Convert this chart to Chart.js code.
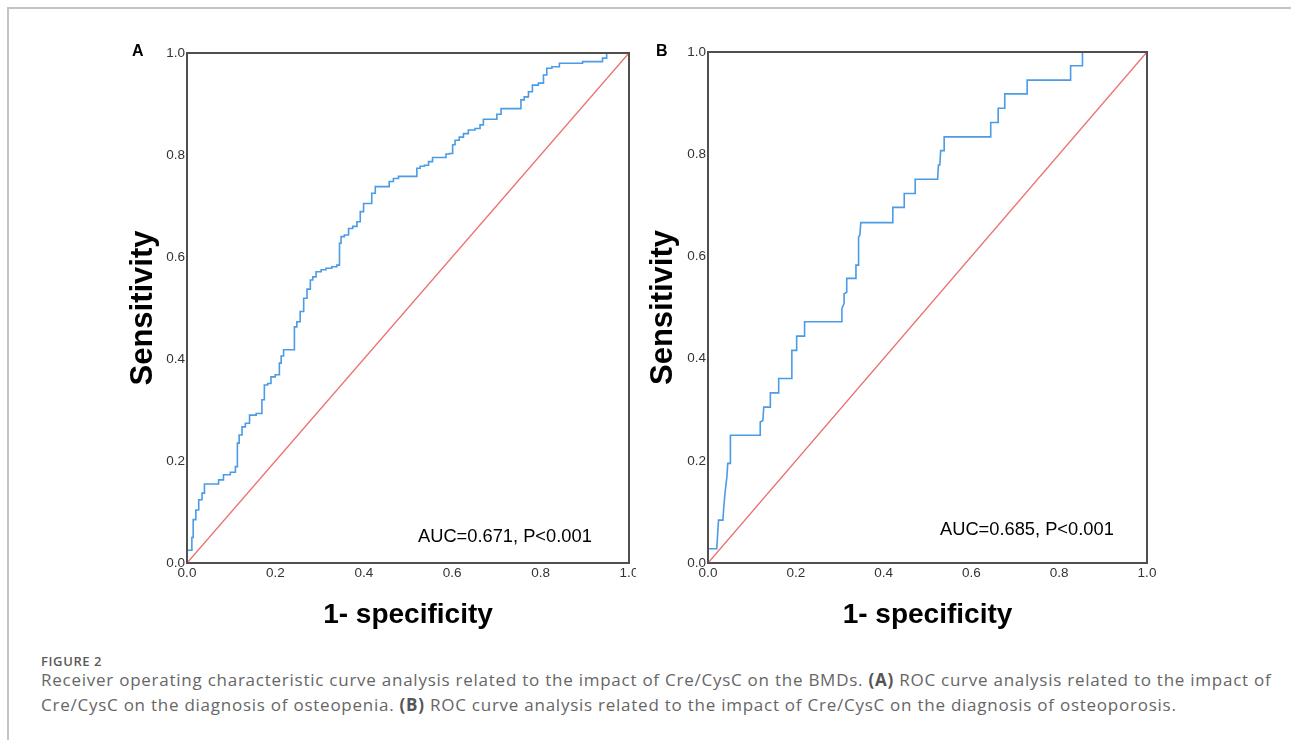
<!DOCTYPE html>
<html>
<head>
<meta charset="utf-8">
<script src="https://cdn.jsdelivr.net/npm/chart.js@4.4.1/dist/chart.umd.min.js"></script>
<style>
  html, body { margin: 0; padding: 0; background: #fff; }
  body { width: 1291px; height: 746px; position: relative; overflow: hidden;
         font-family: "Liberation Sans", Arial, sans-serif; }
  .frame { position: absolute; left: 7px; top: 7px; width: 1300px; height: 731px;
           border-top: 2px solid #c4c4c4; border-left: 2px solid #c4c4c4; }
  .panel { position: absolute; top: 30px; height: 610px; overflow: hidden; }
  #wrapA { left: 120px; width: 516px; }
  #wrapB { left: 640px; width: 530px; }
  .letter { position: absolute; top: 43px; font-weight: bold; font-size: 16px; line-height: 16px; color: #000; }
  .auc { position: absolute; font-size: 18.3px; line-height: 18px; color: #000; white-space: nowrap; }
  .figno { position: absolute; left: 41px; top: 655px; font-family: "Open Sans", sans-serif;
           font-weight: 600; font-size: 13px; line-height: 13px; letter-spacing: 0.6px; color: #5a5a5a; }
  .caption { position: absolute; left: 41px; top: 667px; font-family: "Open Sans", sans-serif;
             font-size: 17px; line-height: 25px; letter-spacing: 0.75px; color: #666;
             white-space: nowrap; }
  .caption b { font-weight: 700; color: #555; }
</style>
</head>
<body>
<div class="frame"></div>

<div class="panel" id="wrapA"><canvas id="chartA" width="530" height="610"></canvas></div>
<div class="panel" id="wrapB"><canvas id="chartB" width="530" height="610"></canvas></div>

<div class="letter" style="left:132px">A</div>
<div class="letter" style="left:656px">B</div>
<div class="auc" style="left:418px; top:527px">AUC=0.671, P&lt;0.001</div>
<div class="auc" style="left:940px; top:520px">AUC=0.685, P&lt;0.001</div>

<div class="figno">FIGURE 2</div>
<div class="caption">Receiver operating characteristic curve analysis related to the impact of Cre/CysC on the BMDs. <b>(A)</b> ROC curve analysis related to the impact of<br>Cre/CysC on the diagnosis of osteopenia. <b>(B)</b> ROC curve analysis related to the impact of Cre/CysC on the diagnosis of osteoporosis.</div>

<script>
(function () {
  'use strict';

  var TICK_VALUES = [0, 0.2, 0.4, 0.6, 0.8, 1.0];
  var TICK_LABELS = ['0.0', '0.2', '0.4', '0.6', '0.8', '1.0'];

  // reference line
  var REF_X = [0, 1];
  var REF_Y = [0, 1];

  // (A) osteopenia
  var ROC_A_FPR = [0, 0, 0.011, 0.011, 0.017, 0.023, 0.030, 0.038, 0.041, 0.068,
    0.075, 0.090, 0.106, 0.113, 0.115, 0.121, 0.128, 0.136, 0.147, 0.166,
    0.173, 0.177, 0.188, 0.192, 0.207, 0.211, 0.215, 0.222, 0.241, 0.245,
    0.252, 0.260, 0.268, 0.275, 0.283, 0.286, 0.298, 0.309, 0.320, 0.335,
    0.343, 0.347, 0.350, 0.362, 0.369, 0.381, 0.388, 0.396, 0.403, 0.414,
    0.422, 0.430, 0.452, 0.463, 0.471, 0.486, 0.516, 0.524, 0.531, 0.543,
    0.550, 0.561, 0.584, 0.588, 0.599, 0.603, 0.610, 0.622, 0.629, 0.644,
    0.659, 0.667, 0.674, 0.697, 0.705, 0.716, 0.754, 0.757, 0.769, 0.776,
    0.787, 0.803, 0.810, 0.818, 0.833, 0.852, 0.893, 0.897, 0.938, 0.942,
    0.957, 1];
  var ROC_A_TPR = [0, 0.025, 0.025, 0.050, 0.085, 0.104, 0.124, 0.137, 0.155, 0.155,
    0.163, 0.173, 0.178, 0.189, 0.235, 0.251, 0.267, 0.274, 0.290, 0.293,
    0.320, 0.349, 0.352, 0.365, 0.369, 0.392, 0.406, 0.418, 0.418, 0.463,
    0.473, 0.493, 0.519, 0.537, 0.555, 0.561, 0.571, 0.575, 0.578, 0.581,
    0.584, 0.627, 0.640, 0.643, 0.656, 0.660, 0.669, 0.689, 0.705, 0.705,
    0.725, 0.738, 0.738, 0.748, 0.754, 0.758, 0.758, 0.774, 0.778, 0.780,
    0.787, 0.795, 0.795, 0.802, 0.803, 0.820, 0.829, 0.835, 0.842, 0.849,
    0.852, 0.859, 0.870, 0.870, 0.880, 0.891, 0.891, 0.908, 0.914, 0.924,
    0.937, 0.941, 0.957, 0.970, 0.973, 0.980, 0.980, 0.983, 0.983, 0.990,
    1.0, 1.0];

  // (B) osteoporosis
  var ROC_B_FPR = [0, 0, 0.020, 0.022, 0.024, 0.034, 0.036, 0.039, 0.043, 0.045,
    0.051, 0.051, 0.119, 0.119, 0.125, 0.127, 0.142, 0.142, 0.161, 0.161,
    0.191, 0.191, 0.202, 0.202, 0.220, 0.220, 0.305, 0.305, 0.310, 0.310,
    0.316, 0.316, 0.337, 0.337, 0.343, 0.343, 0.346, 0.348, 0.421, 0.421,
    0.447, 0.447, 0.472, 0.472, 0.523, 0.525, 0.528, 0.530, 0.538, 0.538,
    0.644, 0.644, 0.661, 0.661, 0.676, 0.676, 0.727, 0.727, 0.826, 0.826,
    0.853, 0.853, 1];
  var ROC_B_TPR = [0, 0.028, 0.028, 0.057, 0.084, 0.084, 0.110, 0.139, 0.168, 0.195,
    0.195, 0.250, 0.250, 0.276, 0.279, 0.305, 0.305, 0.333, 0.333, 0.361,
    0.361, 0.416, 0.416, 0.444, 0.444, 0.472, 0.472, 0.498, 0.508, 0.527,
    0.530, 0.557, 0.557, 0.583, 0.583, 0.638, 0.642, 0.666, 0.666, 0.696,
    0.696, 0.723, 0.723, 0.751, 0.751, 0.779, 0.779, 0.807, 0.807, 0.834,
    0.834, 0.862, 0.862, 0.890, 0.890, 0.918, 0.918, 0.945, 0.945, 0.973,
    0.973, 1.0, 1.0];

  var FONT = '"Liberation Sans", Arial, sans-serif';
  var BLUE = '#4b9be6';
  var RED = '#ec7070';
  var AXIS = '#4f4f4f';

  function toPoints(xs, ys) {
    return xs.map(function (x, i) { return { x: x, y: ys[i] }; });
  }

  var framePlugin = {
    id: 'frame',
    afterDatasetsDraw: function (chart) {
      var a = chart.chartArea;
      var ctx = chart.ctx;
      ctx.save();
      ctx.strokeStyle = AXIS;
      ctx.lineWidth = 2;
      ctx.strokeRect(a.left, a.top, a.right - a.left, a.bottom - a.top);
      ctx.restore();
    }
  };

  function axis(title, fitFn, titlePad) {
    return {
      type: 'linear',
      min: 0,
      max: 1,
      afterBuildTicks: function (s) {
        s.ticks = TICK_VALUES.map(function (v) { return { value: v }; });
      },
      afterFit: fitFn,
      grid: { display: false, drawTicks: false },
      border: { display: false },
      ticks: {
        padding: 2,
        color: '#333',
        autoSkip: false,
        maxRotation: 0,
        font: { family: FONT, size: 13.5 },
        callback: function (v, i) { return TICK_LABELS[i]; }
      },
      title: {
        display: true,
        text: title.text,
        color: '#000',
        font: { family: FONT, size: title.size, weight: 'bold' },
        padding: titlePad
      }
    };
  }

  function makePanel(canvasId, fpr, tpr, geom, stepped) {
    var canvas = document.getElementById(canvasId);
    return new Chart(canvas, {
      type: 'scatter',
      data: {
        datasets: [{
          data: toPoints(fpr, tpr),
          showLine: true,
          stepped: stepped,
          borderColor: BLUE,
          borderWidth: 1.6,
          pointRadius: 0,
          fill: false
        }, {
          data: toPoints(REF_X, REF_Y),
          showLine: true,
          borderColor: RED,
          borderWidth: 1.4,
          pointRadius: 0,
          fill: false
        }]
      },
      options: {
        responsive: false,
        animation: false,
        devicePixelRatio: 1,
        layout: { padding: { left: 0, top: geom.top, right: geom.right, bottom: 0 } },
        plugins: { legend: { display: false }, tooltip: { enabled: false } },
        scales: {
          x: axis({ text: '1- specificity', size: 28 },
            function (s) { s.height = geom.xh; }, { top: 0, bottom: 8 }),
          y: axis({ text: 'Sensitivity', size: 31 },
            function (s) { s.width = geom.yw; }, { top: 5, bottom: 0 })
        }
      },
      plugins: [framePlugin]
    });
  }

  makePanel('chartA', ROC_A_FPR, ROC_A_TPR, { top: 23, right: 21, xh: 77, yw: 67 }, 'middle');
  makePanel('chartB', ROC_B_FPR, ROC_B_TPR, { top: 22, right: 23, xh: 77, yw: 68 }, false);
})();
</script>
</body>
</html>
